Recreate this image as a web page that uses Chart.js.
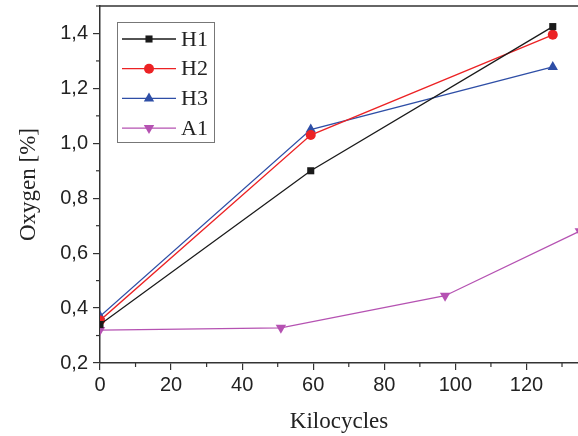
<!DOCTYPE html>
<html>
<head>
<meta charset="utf-8">
<script src="https://cdn.jsdelivr.net/npm/chart.js@4"></script>
<style>
  html, body { margin: 0; padding: 0; background: #fff; overflow: hidden; }
  #wrap { width: 578px; height: 436px; overflow: hidden; }
</style>
</head>
<body>
<div id="wrap"><canvas id="chart" width="584" height="436"></canvas></div>
<script>
// data
const seriesNames = ['H1', 'H2', 'H3', 'A1'];
const h1X = [0, 59.3, 127.4];
const h1Y = [0.34, 0.90, 1.425];
const h2X = [0, 59.3, 127.4];
const h2Y = [0.355, 1.03, 1.395];
const h3X = [0, 59.3, 127.4];
const h3Y = [0.37, 1.05, 1.278];
const a1X = [0, 50.9, 97.1, 135];
const a1Y = [0.32, 0.328, 0.445, 0.68];
const xTicks = [0, 20, 40, 60, 80, 100, 120];
const yTicks = [0.2, 0.4, 0.6, 0.8, 1.0, 1.2, 1.4];

const colors = ['#1a1a1a', '#ec2224', '#2e4ea6', '#b552b2'];
const shapes = ['rect', 'circle', 'triangle', 'triangle'];
const rotations = [0, 0, 0, 180];
const radii = [5, 5, 6, 6];

function pts(xs, ys) {
    return xs.map((x, i) => ({ x: x, y: ys[i] }));
}

const datasets = [pts(h1X, h1Y), pts(h2X, h2Y), pts(h3X, h3Y), pts(a1X, a1Y)].map((d, i) => ({
    label: seriesNames[i],
    data: d,
    borderColor: colors[i],
    backgroundColor: colors[i],
    borderWidth: 1.3,
    pointStyle: shapes[i],
    pointRotation: rotations[i],
    pointRadius: radii[i],
    pointBorderWidth: 0,
    tension: 0
}));

// frame, minor ticks and legend drawn by hand
const decor = {
    id: 'decor',
    afterDraw(chart) {
        const ctx = chart.ctx;
        const a = chart.chartArea;
        const xs = chart.scales.x, ys = chart.scales.y;
        ctx.save();
        ctx.strokeStyle = '#333';
        ctx.lineWidth = 1.5;
        ctx.beginPath();
        ctx.moveTo(a.left, a.top);
        ctx.lineTo(chart.width, a.top);
        ctx.stroke();

        ctx.lineWidth = 1.2;
        for (let v = 10; v < xs.max; v += 20) {
            const px = xs.getPixelForValue(v);
            ctx.beginPath();
            ctx.moveTo(px, a.bottom);
            ctx.lineTo(px, a.bottom + 4);
            ctx.stroke();
        }
        for (let v = 0.3; v < ys.max; v += 0.2) {
            const py = ys.getPixelForValue(v);
            ctx.beginPath();
            ctx.moveTo(a.left, py);
            ctx.lineTo(a.left - 4, py);
            ctx.stroke();
        }

        // legend
        const bx = 117, by = 22, bw = 97, bh = 120;
        ctx.strokeStyle = '#777';
        ctx.lineWidth = 1;
        ctx.fillStyle = '#fff';
        ctx.fillRect(bx, by, bw, bh);
        ctx.strokeRect(bx + 0.5, by + 0.5, bw, bh);
        ctx.font = '22px "Liberation Serif", "Times New Roman", serif';
        ctx.textBaseline = 'middle';
        chart.data.datasets.forEach((ds, i) => {
            const y = by + 17 + i * 29.7;
            ctx.strokeStyle = ds.borderColor;
            ctx.fillStyle = ds.borderColor;
            ctx.lineWidth = 1.3;
            ctx.beginPath();
            ctx.moveTo(bx + 5, y);
            ctx.lineTo(bx + 59, y);
            ctx.stroke();
            Chart.helpers.drawPoint(ctx, {
                pointStyle: ds.pointStyle,
                rotation: ds.pointRotation,
                radius: ds.pointRadius,
                borderWidth: 0
            }, bx + 32, y);
            ctx.fillStyle = '#222';
            ctx.fillText(ds.label, bx + 64, y + 1);
        });
        ctx.restore();
    }
};

new Chart(document.getElementById('chart'), {
    type: 'line',
    data: { datasets: datasets },
    options: {
        responsive: false,
        animation: false,
        layout: { padding: { top: 5, right: 0, left: 0, bottom: 0 } },
        plugins: { legend: { display: false }, tooltip: { enabled: false } },
        scales: {
            x: {
                type: 'linear',
                min: 0,
                max: 134.5,
                afterBuildTicks: s => { s.ticks = xTicks.map(v => ({ value: v })); },
                afterFit: s => { s.height = 73; s.paddingLeft = 0; s.paddingRight = 0; },
                grid: { drawOnChartArea: false, tickLength: 7, color: '#333', lineWidth: 1.2 },
                border: { color: '#333', width: 1.5 },
                ticks: {
                    color: '#222',
                    padding: 3,
                    maxRotation: 0,
                    font: { family: '"Liberation Sans", Arial, sans-serif', size: 20 }
                },
                title: {
                    display: true,
                    text: 'Kilocycles',
                    color: '#222',
                    padding: { top: 4, bottom: 0 },
                    font: { family: '"Liberation Serif", "Times New Roman", serif', size: 23 }
                }
            },
            y: {
                type: 'linear',
                min: 0.2,
                max: 1.5,
                afterBuildTicks: s => { s.ticks = yTicks.map(v => ({ value: v })); },
                afterFit: s => { s.width = 100; s.paddingTop = 0; s.paddingBottom = 0; },
                grid: { drawOnChartArea: false, tickLength: 7, color: '#333', lineWidth: 1.2 },
                border: { color: '#333', width: 1.5 },
                ticks: {
                    color: '#222',
                    padding: 5,
                    font: { family: '"Liberation Sans", Arial, sans-serif', size: 20 },
                    callback: v => v.toFixed(1).replace('.', ',')
                },
                title: {
                    display: true,
                    text: 'Oxygen [%]',
                    color: '#222',
                    padding: { top: 15, bottom: 0 },
                    font: { family: '"Liberation Serif", "Times New Roman", serif', size: 23 }
                }
            }
        }
    },
    plugins: [decor]
});
</script>
</body>
</html>
